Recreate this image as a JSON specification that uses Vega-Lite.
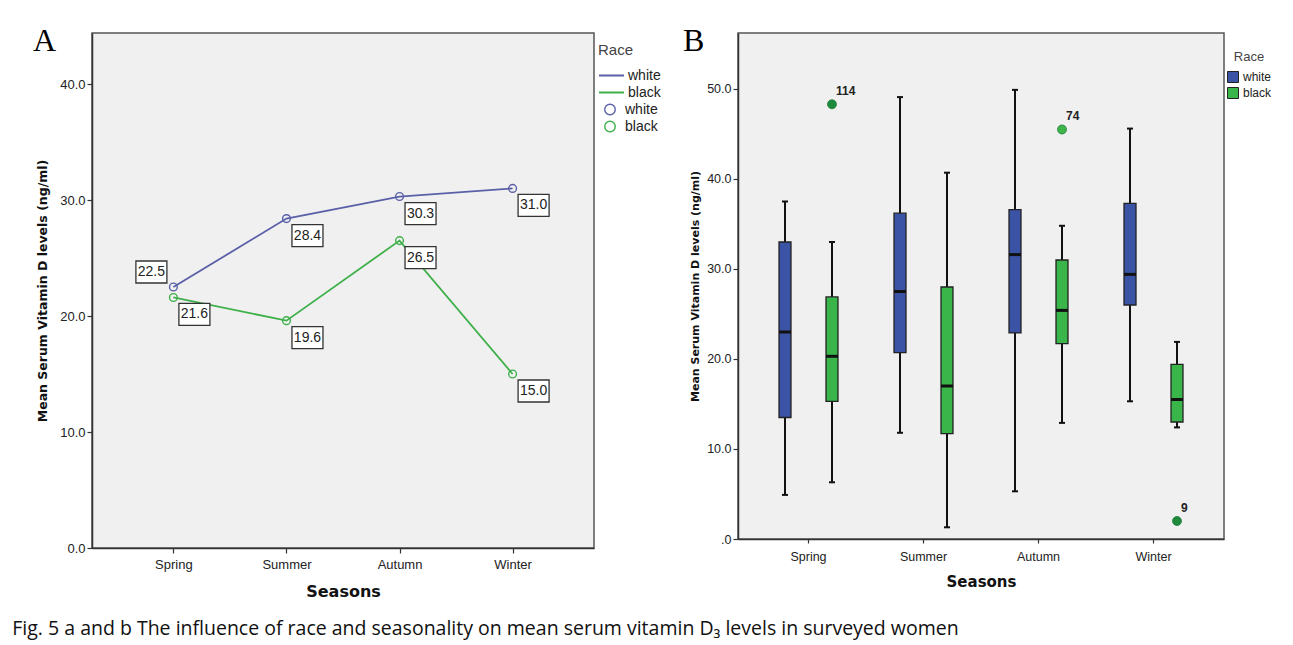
{
  "$schema": "https://vega.github.io/schema/vega-lite/v6.json",
  "background": "white",
  "padding": {"left": 12, "top": 24, "right": 5, "bottom": 5},
  "title": {"text": "Fig. 5 a and b The influence of race and seasonality on mean serum vitamin D₃ levels in surveyed women", "orient": "bottom", "anchor": "start", "frame": "bounds", "font": "Open Sans", "fontSize": 19.5, "fontWeight": "normal", "color": "#111", "offset": 20, "dx": -20},
  "datasets": {
    "means": [
      {"season": "Spring", "race": "white", "mean": 22.5},
      {"season": "Summer", "race": "white", "mean": 28.4},
      {"season": "Autumn", "race": "white", "mean": 30.3},
      {"season": "Winter", "race": "white", "mean": 31.0},
      {"season": "Spring", "race": "black", "mean": 21.6},
      {"season": "Summer", "race": "black", "mean": 19.6},
      {"season": "Autumn", "race": "black", "mean": 26.5},
      {"season": "Winter", "race": "black", "mean": 15.0}
    ],
    "boxes": [
      {"season": "Spring", "race": "white", "lower": 4.9, "q1": 13.5, "median": 23.0, "q3": 33.0, "upper": 37.5},
      {"season": "Spring", "race": "black", "lower": 6.3, "q1": 15.3, "median": 20.3, "q3": 26.9, "upper": 33.0},
      {"season": "Summer", "race": "white", "lower": 11.8, "q1": 20.7, "median": 27.5, "q3": 36.2, "upper": 49.1},
      {"season": "Summer", "race": "black", "lower": 1.3, "q1": 11.7, "median": 17.0, "q3": 28.0, "upper": 40.7},
      {"season": "Autumn", "race": "white", "lower": 5.3, "q1": 22.9, "median": 31.6, "q3": 36.6, "upper": 49.9},
      {"season": "Autumn", "race": "black", "lower": 12.9, "q1": 21.7, "median": 25.4, "q3": 31.0, "upper": 34.8},
      {"season": "Winter", "race": "white", "lower": 15.3, "q1": 26.0, "median": 29.4, "q3": 37.3, "upper": 45.6},
      {"season": "Winter", "race": "black", "lower": 12.4, "q1": 13.0, "median": 15.5, "q3": 19.4, "upper": 21.9}
    ],
    "outliers": [
      {"season": "Spring", "race": "black", "value": 48.3, "id": "114"},
      {"season": "Autumn", "race": "black", "value": 45.5, "id": "74"},
      {"season": "Winter", "race": "black", "value": 2.0, "id": "9"}
    ]
  },
  "config": {
    "view": {"fill": "#f0f0f0", "stroke": "#555", "strokeWidth": 1.5},
    "axis": {"domainColor": "#333", "domainWidth": 1.5, "tickColor": "#333", "tickWidth": 1.2, "labelColor": "#222", "labelFont": "Liberation Sans", "labelFontSize": 13, "titleFont": "DejaVu Sans", "titleFontWeight": "bold", "titleColor": "#111", "grid": false},
    "legend": {"labelFont": "Liberation Sans", "titleFont": "Liberation Sans", "titleFontWeight": "normal", "titleColor": "#444", "labelColor": "#222"}
  },
  "spacing": 20,
  "resolve": {"scale": {"color": "independent", "stroke": "independent", "fill": "independent"}},
  "hconcat": [
    {
      "width": 502,
      "height": 515,
      "title": {"text": "A", "font": "Liberation Serif", "fontSize": 32, "fontWeight": "normal", "color": "#000", "anchor": "start", "frame": "group", "orient": "top", "baseline": "alphabetic", "dx": -59, "offset": -50},
      "data": {"name": "means"},
      "encoding": {
        "x": {"field": "season", "type": "nominal", "sort": ["Spring", "Summer", "Autumn", "Winter"], "scale": {"type": "point", "padding": 0.72}, "axis": {"title": "Seasons", "labelAngle": 0, "titleFontSize": 16, "titlePadding": 12, "tickSize": 5, "labelPadding": 5}},
        "y": {"field": "mean", "type": "quantitative", "scale": {"domain": [0, 44.4], "nice": false}, "axis": {"title": "Mean Serum Vitamin D levels (ng/ml)", "values": [0, 10, 20, 30, 40], "format": ".1f", "titleFontSize": 12.5, "titlePadding": 10, "tickSize": 5, "labelPadding": 2}}
      },
      "layer": [
        {
          "mark": {"type": "line", "strokeWidth": 1.8},
          "encoding": {
            "color": {"field": "race", "type": "nominal", "scale": {"domain": ["white", "black"], "range": ["#5a60a8", "#3eb049"]},
              "legend": {"title": "Race", "orient": "none", "legendX": 506, "legendY": 10, "symbolType": "stroke", "symbolSize": 625, "symbolStrokeWidth": 2, "clipHeight": 17, "rowPadding": 0, "labelOffset": 3, "labelFontSize": 14, "titleFontSize": 15, "titlePadding": 9}}
          }
        },
        {
          "mark": {"type": "point", "filled": false, "size": 60, "strokeWidth": 1.4, "opacity": 1},
          "encoding": {
            "stroke": {"field": "race", "type": "nominal", "scale": {"domain": ["black", "white"], "range": ["#3eb049", "#5a60a8"]},
              "legend": {"title": null, "values": ["white", "black"], "orient": "none", "legendX": 511, "legendY": 68, "symbolType": "circle", "symbolSize": 110, "symbolStrokeWidth": 1.4, "clipHeight": 17, "rowPadding": 0, "labelOffset": 8, "labelFontSize": 14}}
          }
        },
        {
          "transform": [{"filter": "!(datum.race === 'white' && datum.season === 'Spring')"}],
          "mark": {"type": "point", "shape": "M0.55,0.6 L3.65,0.6 L3.65,2.8 L0.55,2.8 Z", "size": 400, "filled": true, "fill": "white", "stroke": "#333", "strokeWidth": 1.3, "opacity": 1}
        },
        {
          "transform": [{"filter": "datum.race === 'white' && datum.season === 'Spring'"}],
          "mark": {"type": "point", "shape": "M-3.75,-2.6 L-0.65,-2.6 L-0.65,-0.4 L-3.75,-0.4 Z", "size": 400, "filled": true, "fill": "white", "stroke": "#333", "strokeWidth": 1.3, "opacity": 1}
        },
        {
          "transform": [{"filter": "!(datum.race === 'white' && datum.season === 'Spring')"}],
          "mark": {"type": "text", "dx": 21, "dy": 17, "font": "Liberation Sans", "fontSize": 14, "color": "#222", "baseline": "middle"},
          "encoding": {"text": {"field": "mean", "format": ".1f"}}
        },
        {
          "transform": [{"filter": "datum.race === 'white' && datum.season === 'Spring'"}],
          "mark": {"type": "text", "dx": -22, "dy": -15, "font": "Liberation Sans", "fontSize": 14, "color": "#222", "baseline": "middle"},
          "encoding": {"text": {"field": "mean", "format": ".1f"}}
        }
      ]
    },
    {
      "width": 486,
      "height": 506,
      "title": {"text": "B", "font": "Liberation Serif", "fontSize": 32, "fontWeight": "normal", "color": "#000", "anchor": "start", "frame": "group", "orient": "top", "baseline": "alphabetic", "dx": -55, "offset": -50},
      "encoding": {
        "x": {"field": "season", "type": "nominal", "sort": ["Spring", "Summer", "Autumn", "Winter"], "scale": {"type": "band", "paddingInner": 0, "paddingOuter": 0.113}, "axis": {"title": "Seasons", "labelAngle": 0, "labelFontSize": 12.5, "titleFontSize": 15, "titlePadding": 12, "tickSize": 4, "labelPadding": 7}},
        "xOffset": {"field": "race", "type": "nominal", "sort": ["white", "black"], "scale": {"domain": ["white", "black"], "paddingInner": 0.745, "paddingOuter": 0.596}}
      },
      "layer": [
        {
          "data": {"name": "boxes"},
          "mark": {"type": "rule", "color": "#111", "strokeWidth": 2},
          "encoding": {
            "y": {"field": "lower", "type": "quantitative", "scale": {"domain": [0, 56.22], "nice": false}, "axis": {"title": "Mean Serum Vitamin D levels (ng/ml)", "values": [0, 10, 20, 30, 40, 50], "labelExpr": "datum.value === 0 ? '.0' : format(datum.value, '.1f')", "labelFontSize": 12.5, "titleFontSize": 11, "titlePadding": 6, "tickSize": 5, "labelPadding": 2}},
            "y2": {"field": "upper"}
          }
        },
        {
          "data": {"name": "boxes"},
          "mark": {"type": "tick", "color": "#111", "size": 6, "thickness": 2, "opacity": 1},
          "encoding": {"y": {"field": "lower", "type": "quantitative", "title": "Mean Serum Vitamin D levels (ng/ml)"}}
        },
        {
          "data": {"name": "boxes"},
          "mark": {"type": "tick", "color": "#111", "size": 6, "thickness": 2, "opacity": 1},
          "encoding": {"y": {"field": "upper", "type": "quantitative", "title": "Mean Serum Vitamin D levels (ng/ml)"}}
        },
        {
          "data": {"name": "boxes"},
          "mark": {"type": "bar", "stroke": "#222", "strokeWidth": 1.3},
          "encoding": {
            "y": {"field": "q1", "type": "quantitative", "title": "Mean Serum Vitamin D levels (ng/ml)"},
            "y2": {"field": "q3"},
            "fill": {"field": "race", "type": "nominal", "scale": {"domain": ["white", "black"], "range": ["#3a53a4", "#39b54a"]},
              "legend": {"title": "Race", "orient": "none", "legendX": 489, "legendY": 18, "symbolType": "square", "symbolSize": 121, "symbolStrokeColor": "#222", "symbolStrokeWidth": 1, "clipHeight": 16, "rowPadding": 0, "labelOffset": 4, "titleFontSize": 13, "labelFontSize": 12, "titlePadding": 5, "titleAnchor": "middle"}}
          }
        },
        {
          "data": {"name": "boxes"},
          "mark": {"type": "tick", "color": "#111", "size": 12, "thickness": 3, "opacity": 1},
          "encoding": {"y": {"field": "median", "type": "quantitative", "title": "Mean Serum Vitamin D levels (ng/ml)"}}
        },
        {
          "data": {"name": "outliers"},
          "mark": {"type": "circle", "size": 80, "opacity": 1, "stroke": "#1d7a35", "strokeWidth": 0.8},
          "encoding": {
            "y": {"field": "value", "type": "quantitative", "title": "Mean Serum Vitamin D levels (ng/ml)"},
            "color": {"field": "id", "type": "nominal", "scale": {"domain": ["114", "74", "9"], "range": ["#1f8a3c", "#3cb54a", "#1f8a3c"]}, "legend": null}
          }
        },
        {
          "data": {"name": "outliers"},
          "mark": {"type": "text", "align": "left", "dx": 4, "dy": -13, "font": "Liberation Sans", "fontWeight": "bold", "fontSize": 12, "color": "#222"},
          "encoding": {"y": {"field": "value", "type": "quantitative", "title": "Mean Serum Vitamin D levels (ng/ml)"}, "text": {"field": "id"}}
        }
      ]
    }
  ]
}
